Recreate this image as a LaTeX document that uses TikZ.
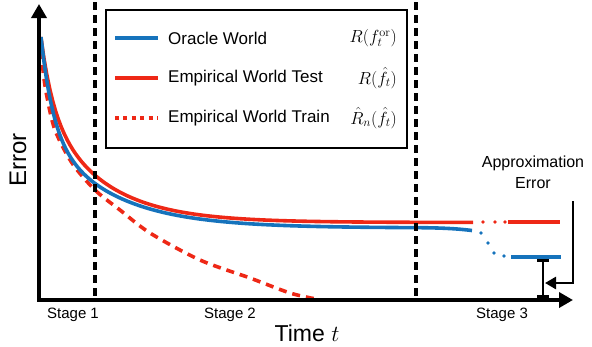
\RequirePackage{fix-cm}
\documentclass[tikz,border=0pt]{standalone}
\usepackage[no-math]{fontspec}
\setmainfont{Liberation Sans}
\usetikzlibrary{positioning}
\usetikzlibrary {arrows.meta}
\definecolor{oracleblue}{RGB}{22,115,188}
\definecolor{empred}{RGB}{238,40,22}
\tikzset{curveline/.style={line width=3.6pt,line cap=butt}}
\tikzset{trainline/.style={line width=3.6pt,dash pattern=on 8pt off 6pt}}
\tikzset{stagesep/.style={line width=3.2pt,dash pattern=on 8pt off 5pt}}
\tikzset{stagelabel/.style={inner sep=0pt,font=\fontsize{15}{18}\selectfont}}
\tikzset{legendtext/.style={inner sep=0pt,anchor=west,font=\fontsize{17}{20}\selectfont}}
\tikzset{legendmath/.style={inner sep=0pt,anchor=east,font=\fontsize{17.5}{20}\selectfont}}
\tikzset{gapdot/.style={circle,inner sep=0pt,minimum size=3.6pt}}

\begin{document}
\begin{tikzpicture}[x=1pt,y=-1pt]
        \useasboundingbox (0,0) rectangle (592,346);

        % curves
        \draw[trainline,empred] plot[smooth] coordinates {(41,37) (43,70) (47,97) (55,130) (72,163) (95,190) (120,210) (150,233) (200,260) (250,278) (290,293) (316,299)};
        \draw[curveline,empred] plot[domain=41:473,samples=150] (\x,{222.5-66.5*exp(-(\x-41)/12)-118*exp(-(\x-41)/58)});
        \draw[curveline,oracleblue] plot[domain=41:416,samples=150] (\x,{228-93*exp(-(\x-41)/12)-98*exp(-(\x-41)/66.5)})
            .. controls (445,227.8) and (460,229) .. (472,230.5);

        % gap to stage 3
        \node[gapdot,fill=empred] (rdot1) at (483,222) {};
        \node[gapdot,fill=empred] (rdot2) at (495,222) {};
        \node[gapdot,fill=empred] (rdot3) at (505,222) {};
        \node[gapdot,fill=oracleblue] (bdot1) at (481,233) {};
        \node[gapdot,fill=oracleblue] (bdot2) at (488,243) {};
        \node[gapdot,fill=oracleblue] (bdot3) at (494,253) {};
        \node[gapdot,fill=oracleblue] (bdot4) at (504,256) {};
        \coordinate (redA) at (508,222);
        \coordinate (redB) at (560,222);
        \coordinate (blueA) at (511,257);
        \coordinate (blueB) at (561,257);
        \draw[curveline,empred] (redA) -- (redB);
        \draw[curveline,oracleblue] (blueA) -- (blueB);

        % stage separators
        \coordinate (sepAtop) at (95,2);
        \coordinate (sepAbot) at (95,300);
        \coordinate (sepBtop) at (416,2);
        \coordinate (sepBbot) at (416,300);
        \draw[stagesep] (sepAtop) -- (sepAbot);
        \draw[stagesep] (sepBtop) -- (sepBbot);

        % axes
        \coordinate (origin) at (39,300);
        \coordinate (ytip) at (39,4);
        \coordinate (xtip) at (573,300);
        \draw[line width=3.8pt,line join=miter,{Triangle[length=14pt,width=15pt]}-{Triangle[length=14pt,width=15pt]}] (ytip) -- (origin) -- (xtip);

        % approximation error
        \coordinate (bartop) at (543,259);
        \coordinate (barbot) at (543,298);
        \draw[line width=2.6pt,{Bar[width=12pt]}-{Bar[width=12pt]}] (bartop) -- (barbot);
        \node[align=center,inner sep=0pt,font=\fontsize{16}{21}\selectfont] (approxlabel) at (533,172) {Approximation\\Error};
        \coordinate (approxtop) at (573,201);
        \coordinate (barhit) at (545,283);
        \draw[line width=2.6pt,line join=miter,-{Triangle[length=11pt,width=12pt]}] (approxtop) |- (barhit);

        % legend
        \node[draw,line width=2.4pt,fill=white,minimum width=301pt,minimum height=138pt] (legend) at (256.5,79) {};
        \coordinate (oracleA) at (115,38);
        \coordinate (oracleB) at (158,38);
        \coordinate (testA) at (115,78);
        \coordinate (testB) at (158,78);
        \coordinate (trainA) at (115,118);
        \coordinate (trainB) at (158,118);
        \draw[curveline,oracleblue] (oracleA) -- (oracleB);
        \draw[curveline,empred] (testA) -- (testB);
        \draw[line width=3.6pt,empred,dash pattern=on 4pt off 4.4pt] (trainA) -- (trainB);
        \node[legendtext] (oracletext) [right=10pt of oracleB] {Oracle World};
        \node[legendtext] (testtext) [right=10pt of testB] {Empirical World Test};
        \node[legendtext] (traintext) [right=10pt of trainB] {Empirical World Train};
        \node[legendmath] (oraclemath) at (397,38) {$R(f_t^{\mathrm{or}})$};
        \node[legendmath] (testmath) at (397,78) {$R(\hat{f}_t)$};
        \node[legendmath] (trainmath) at (397,118) {$\hat{R}_n(\hat{f}_t)$};

        % axis labels
        \node[stagelabel] (stage1) at (73,315) {Stage 1};
        \node[stagelabel] (stage2) at (230,315) {Stage 2};
        \node[stagelabel] (stage3) at (502,315) {Stage 3};
        \node[inner sep=0pt,font=\fontsize{23}{26}\selectfont] (timelabel) at (307,333) {Time $t$};
        \node[inner sep=0pt,rotate=90,font=\fontsize{24}{28}\selectfont] (errorlabel) at (18,160) {Error};

    \end{tikzpicture}
\end{document}
